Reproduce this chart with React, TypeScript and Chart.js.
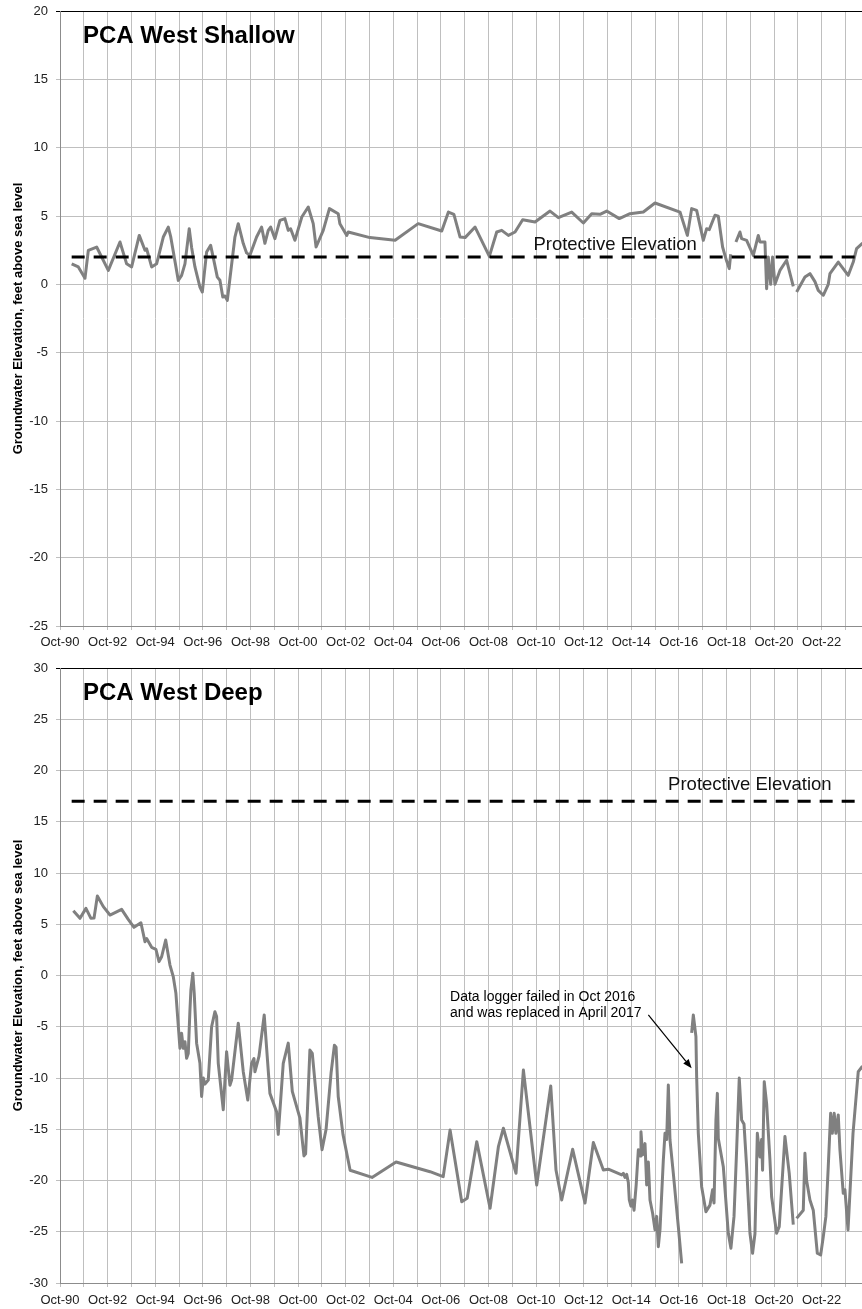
import React, { useEffect, useRef } from 'react';
import { Chart, registerables } from 'chart.js';

Chart.register(...registerables);

const FONT = "'Liberation Sans', Arial, Helvetica, sans-serif";

// X axis: one tick per year at October, labels every second year
const axisStart = 1990.75;
const axisEnd = 2024.75;
const xTickLabels = [
  'Oct-90', '', 'Oct-92', '', 'Oct-94', '', 'Oct-96', '', 'Oct-98', '',
  'Oct-00', '', 'Oct-02', '', 'Oct-04', '', 'Oct-06', '', 'Oct-08', '',
  'Oct-10', '', 'Oct-12', '', 'Oct-14', '', 'Oct-16', '', 'Oct-18', '',
  'Oct-20', '', 'Oct-22', '', '',
];
const tickYears = xTickLabels.map((_, i) => axisStart + i);

const yAxisTitle = 'Groundwater Elevation, feet above sea level';
const protectiveLabel = 'Protective Elevation';
const protectiveStart = 1991.24;

// PCA West Shallow
const shallowYears = [
  1991.24, 1991.52, 1991.80, 1991.94, 1992.29, 1992.78, 1993.27, 1993.55, 1993.76, 1994.08,
  1994.32, 1994.39, 1994.60, 1994.81, 1995.09, 1995.30, 1995.40, 1995.72, 1995.86, 1996.00,
  1996.18, 1996.28, 1996.42, 1996.63, 1996.73, 1996.91, 1997.08, 1997.19, 1997.36, 1997.47,
  1997.59, 1997.68, 1997.78, 1998.10, 1998.24, 1998.45, 1998.59, 1998.73, 1999.01, 1999.22,
  1999.36, 1999.50, 1999.60, 1999.78, 1999.99, 2000.20, 2000.34, 2000.44, 2000.62, 2000.91,
  2001.18, 2001.39, 2001.51, 2001.81, 2002.07, 2002.44, 2002.51, 2002.80, 2002.86, 2003.77,
  2004.83, 2005.80, 2006.79, 2007.07, 2007.30, 2007.56, 2007.77, 2008.19, 2008.79, 2009.10,
  2009.31, 2009.59, 2009.87, 2010.19, 2010.71, 2011.34, 2011.69, 2012.25, 2012.74, 2013.09,
  2013.44, 2013.72, 2014.25, 2014.70, 2015.26, 2015.75, 2016.80, 2017.11, 2017.29, 2017.50,
  2017.78, 2017.92, 2018.03, 2018.27, 2018.41, 2018.59, 2018.69, 2018.76, 2018.87, 2018.93,
  2019.03,
  2019.15, 2019.32, 2019.39, 2019.60, 2019.88, 2020.09, 2020.16, 2020.37, 2020.44, 2020.51,
  2020.61, 2020.69, 2020.79, 2021.00, 2021.28, 2021.56,
  2021.63,
  2021.70, 2022.05, 2022.26, 2022.47, 2022.61, 2022.82, 2023.03, 2023.10, 2023.45, 2023.87,
  2024.08, 2024.22, 2024.45, 2024.60,
];
const shallowLevels = [
  1.5, 1.27, 0.44, 2.49, 2.73, 1.02, 3.1, 1.5, 1.27, 3.58,
  2.49, 2.6, 1.27, 1.5, 3.46, 4.19, 3.5, 0.29, 0.66, 1.5,
  4.07, 2.7, 1.27, -0.2, -0.56, 2.36, 2.85, 1.95, 0.53, 0.3,
  -0.93, -0.85, -1.17, 3.46, 4.44, 2.98, 2.3, 2.12, 3.46, 4.19,
  3.0, 3.95, 4.19, 3.34, 4.68, 4.81, 3.95, 4.07, 3.22, 4.93,
  5.66, 4.44, 2.73, 3.95, 5.54, 5.17, 4.44, 3.58, 3.83, 3.42,
  3.22, 4.44, 3.9, 5.29, 5.12, 3.46, 3.42, 4.19, 2.05, 3.83,
  3.95, 3.58, 3.83, 4.73, 4.56, 5.36, 4.88, 5.29, 4.49, 5.17,
  5.12, 5.36, 4.81, 5.17, 5.29, 5.95, 5.29, 3.58, 5.54, 5.41,
  3.22, 4.07, 4.0, 5.05, 4.98, 2.73, 2.12, 1.7, 1.15, 2.2,
  null,
  3.1, 3.83, 3.34, 3.22, 2.12, 3.58, 3.1, 3.1, -0.32, 2.0,
  0.0, 2.0, 0.0, 1.02, 1.76, -0.15,
  null,
  -0.56, 0.53, 0.78, 0.2, -0.44, -0.8, 0.0, 0.78, 1.63, 0.66,
  1.63, 2.61, 2.98, 3.1,
];
const shallowProtective = 2;

// PCA West Deep
const deepYears = [
  1991.31, 1991.59, 1991.84, 1992.05, 1992.18, 1992.32, 1992.57, 1992.85, 1993.34, 1993.61,
  1993.86, 1994.15, 1994.32, 1994.39, 1994.60, 1994.78, 1994.91, 1995.02, 1995.19, 1995.37,
  1995.51, 1995.62, 1995.79, 1995.86, 1995.93, 1996.00, 1996.07, 1996.14, 1996.21, 1996.25,
  1996.33, 1996.39, 1996.49, 1996.63, 1996.70, 1996.77, 1996.84, 1996.98, 1997.12, 1997.26,
  1997.33, 1997.40, 1997.61, 1997.75, 1997.89, 1997.96, 1998.24, 1998.45, 1998.64, 1998.80,
  1998.90, 1998.94, 1999.11, 1999.33, 1999.57, 1999.85, 1999.92, 2000.13, 2000.34, 2000.51,
  2000.83, 2001.00, 2001.07, 2001.25, 2001.35, 2001.60, 2001.76, 2001.93, 2002.14, 2002.28,
  2002.35, 2002.44, 2002.64, 2002.94, 2003.86, 2004.87, 2006.30, 2006.85, 2007.14, 2007.63,
  2007.86, 2008.26, 2008.82, 2009.17, 2009.38, 2009.91, 2010.22, 2010.78, 2011.37, 2011.59,
  2011.83, 2012.29, 2012.81, 2013.16, 2013.58, 2013.79, 2014.35, 2014.42, 2014.49, 2014.56,
  2014.63, 2014.67, 2014.74, 2014.80, 2014.87, 2014.96, 2015.05, 2015.12, 2015.16, 2015.23,
  2015.33, 2015.40, 2015.47, 2015.54, 2015.65, 2015.75, 2015.82, 2015.89, 2015.96, 2016.10,
  2016.17, 2016.24, 2016.31, 2016.38, 2016.52, 2016.73, 2016.87,
  2017.05,
  2017.29, 2017.36, 2017.47, 2017.50, 2017.57, 2017.71, 2017.89, 2018.06, 2018.17, 2018.23,
  2018.31, 2018.37, 2018.41, 2018.62, 2018.83, 2018.94, 2019.07, 2019.18, 2019.29, 2019.39,
  2019.49, 2019.60, 2019.74, 2019.85, 2019.95, 2020.05, 2020.16, 2020.23, 2020.27, 2020.34,
  2020.44, 2020.58, 2020.65, 2020.86, 2020.97, 2021.21, 2021.39, 2021.56,
  2021.63,
  2021.70, 2021.98, 2022.05, 2022.12, 2022.26, 2022.40, 2022.57, 2022.71, 2022.82, 2022.93,
  2023.03, 2023.13, 2023.20, 2023.28, 2023.35, 2023.45, 2023.52, 2023.66, 2023.73, 2023.86,
  2024.07, 2024.29, 2024.45, 2024.60,
];
const deepLevels = [
  6.32, 5.58, 6.55, 5.58, 5.6, 7.76, 6.72, 5.9, 6.45, 5.5,
  4.7, 5.15, 3.3, 3.6, 2.75, 2.56, 1.35, 1.83, 3.46, 1.02,
  -0.12, -1.74, -7.1, -5.64, -7.1, -6.46, -8.08, -7.6, -3.37, -1.41,
  0.21, -1.74, -6.6, -8.57, -11.8, -10.0, -10.6, -10.2, -5.0, -3.53,
  -4.0, -8.57, -13.1, -7.43, -10.7, -10.2, -4.66, -9.38, -12.15, -8.57,
  -8.1, -9.4, -7.9, -3.85, -11.5, -13.3, -15.5, -8.57, -6.6, -11.3,
  -13.9, -17.6, -17.4, -7.27, -7.6, -13.8, -17.0, -15.0, -9.5, -6.8,
  -7.0, -11.8, -15.5, -19.0, -19.7, -18.2, -19.14, -19.63, -15.07, -22.07,
  -21.74, -16.21, -22.7, -16.7, -14.9, -19.3, -9.22, -20.44, -10.78, -18.98,
  -21.9, -16.96, -22.2, -16.3, -18.98, -18.9, -19.46, -19.3, -19.7, -19.4,
  -20.2, -21.9, -22.5, -21.9, -22.9, -20.4, -17.0, -17.6, -15.24, -17.5,
  -16.4, -20.44, -18.2, -21.9, -23.2, -24.8, -23.5, -26.46, -24.8, -18.0,
  -15.4, -16.0, -10.68, -16.05, -19.3, -24.5, -28.08,
  null,
  -5.6, -3.85, -5.97, -9.87, -15.4, -20.6, -23.04, -22.4, -20.9, -22.2,
  -14.1, -11.5, -15.9, -18.65, -25.15, -26.6, -23.5, -17.0, -10.0, -14.1,
  -14.5, -18.65, -25.15, -27.1, -25.2, -15.4, -17.7, -16.0, -19.0, -10.36,
  -12.5, -18.0, -21.58, -25.15, -24.5, -15.7, -19.3, -24.3,
  null,
  -23.7, -22.9, -17.35, -20.0, -21.9, -22.9, -27.1, -27.27, -25.5, -23.5,
  -18.65, -13.44, -15.4, -13.44, -15.4, -13.6, -17.0, -21.25, -20.9, -24.83,
  -15.4, -9.38, -8.9, -9.5,
];
const deepProtective = 17;

type Note = {
  lines: string[];
  x: number; // year of text start
  baselines: number[]; // px offset from chart top
  tail: [number, number];
  tip: [number, number];
};

type Cfg = {
  title: string;
  years: number[];
  levels: (number | null)[];
  protective: number;
  yMin: number;
  yMax: number;
  height: number;
  padTop: number;
  xAxisHeight: number;
  xLabelPad: number;
  labelYear: number;
  labelRise: number;
  note?: Note;
};

const textPlugin = {
  id: 'gwText',
  afterDraw(chart: any, _args: any, opts: any) {
    const { ctx, chartArea } = chart;
    const xs = chart.scales.x;
    const ys = chart.scales.y;
    ctx.save();
    ctx.fillStyle = '#000';
    ctx.textAlign = 'left';
    ctx.textBaseline = 'alphabetic';
    ctx.font = `bold 24px ${FONT}`;
    ctx.fillText(opts.title, chartArea.left + 23, chartArea.top + 32);

    ctx.font = `18.5px ${FONT}`;
    ctx.fillStyle = '#111';
    ctx.fillText(protectiveLabel, xs.getPixelForValue(opts.labelYear), ys.getPixelForValue(opts.protective) - opts.labelRise);

    const note: Note | undefined = opts.note;
    if (note) {
      ctx.font = `14px ${FONT}`;
      ctx.fillStyle = '#000';
      const nx = xs.getPixelForValue(note.x);
      note.lines.forEach((t, i) => ctx.fillText(t, nx, chartArea.top + note.baselines[i]));
      const x1 = xs.getPixelForValue(note.tail[0]);
      const y1 = ys.getPixelForValue(note.tail[1]);
      const x2 = xs.getPixelForValue(note.tip[0]);
      const y2 = ys.getPixelForValue(note.tip[1]);
      const ang = Math.atan2(y2 - y1, x2 - x1);
      const hl = 9;
      const hw = 3.5;
      const bx = x2 - hl * Math.cos(ang);
      const by = y2 - hl * Math.sin(ang);
      ctx.strokeStyle = '#000';
      ctx.lineWidth = 1.2;
      ctx.beginPath();
      ctx.moveTo(x1, y1);
      ctx.lineTo(bx, by);
      ctx.stroke();
      ctx.beginPath();
      ctx.moveTo(x2, y2);
      ctx.lineTo(bx + hw * Math.sin(ang), by - hw * Math.cos(ang));
      ctx.lineTo(bx - hw * Math.sin(ang), by + hw * Math.cos(ang));
      ctx.closePath();
      ctx.fill();
    }
    ctx.restore();
  },
};

function GwChart({ cfg }: { cfg: Cfg }) {
  const ref = useRef<HTMLCanvasElement>(null);
  useEffect(() => {
    const canvas = ref.current;
    if (!canvas) return;
    const gridColor = '#bfbfbf';
    const chart = new Chart(canvas, {
      type: 'line',
      data: {
        datasets: [
          {
            label: protectiveLabel,
            data: [
              { x: protectiveStart, y: cfg.protective },
              { x: axisEnd, y: cfg.protective },
            ],
            borderColor: '#000',
            borderWidth: 3,
            borderDash: [13, 9],
            pointRadius: 0,
            tension: 0,
          },
          {
            label: cfg.title,
            data: cfg.years.map((x, i) => ({ x, y: cfg.levels[i] })),
            borderColor: '#808080',
            borderWidth: 3,
            pointRadius: 0,
            tension: 0,
            spanGaps: false,
            borderJoinStyle: 'round',
          },
        ],
      },
      options: {
        animation: false,
        responsive: false,
        maintainAspectRatio: false,
        devicePixelRatio: 1,
        layout: { padding: { top: cfg.padTop, left: 0, right: 880 - 869.2, bottom: 0 } },
        plugins: {
          legend: { display: false },
          tooltip: { enabled: false },
          title: { display: false },
          gwText: {
            title: cfg.title,
            protective: cfg.protective,
            labelYear: cfg.labelYear,
            labelRise: cfg.labelRise,
            note: cfg.note,
          },
        } as any,
        scales: {
          x: {
            type: 'linear',
            min: axisStart,
            max: axisEnd,
            afterBuildTicks: (s: any) => {
              s.ticks = tickYears.map((v) => ({ value: v }));
            },
            afterFit: (s: any) => {
              s.height = cfg.xAxisHeight;
              s.paddingLeft = 0;
              s.paddingRight = 0;
            },
            grid: { color: gridColor, lineWidth: 1, tickLength: 4, drawTicks: true },
            border: { color: '#8c8c8c', width: 1 },
            ticks: {
              autoSkip: false,
              maxRotation: 0,
              minRotation: 0,
              padding: cfg.xLabelPad,
              color: '#222',
              font: { family: FONT, size: 13 },
              callback: (_v: any, i: number) => xTickLabels[i] ?? '',
            },
          },
          y: {
            min: cfg.yMin,
            max: cfg.yMax,
            afterFit: (s: any) => {
              s.width = 60;
              s.paddingTop = 0;
              s.paddingBottom = 0;
            },
            grid: {
              color: (c: any) => (c.tick && c.tick.value === cfg.yMax ? '#000' : gridColor),
              lineWidth: 1,
              tickLength: 4,
            },
            border: { color: '#8c8c8c', width: 1 },
            ticks: {
              stepSize: 5,
              padding: 8,
              color: '#222',
              font: { family: FONT, size: 13 },
            },
            title: {
              display: true,
              text: yAxisTitle,
              color: '#000',
              font: { family: FONT, size: 13, weight: 'bold' },
              padding: { top: 11, bottom: 0 },
            },
          },
        },
      },
      plugins: [textPlugin],
    } as any);
    return () => chart.destroy();
  }, [cfg]);
  return (
    <canvas
      ref={ref}
      width={880}
      height={cfg.height}
      style={{ display: 'block', width: 880, height: cfg.height }}
    />
  );
}

const shallowCfg: Cfg = {
  title: 'PCA West Shallow',
  years: shallowYears,
  levels: shallowLevels,
  protective: shallowProtective,
  yMin: -25,
  yMax: 20,
  height: 655,
  padTop: 11,
  xAxisHeight: 29,
  xLabelPad: 5,
  labelYear: 2010.64,
  labelRise: 7.5,
};

const deepCfg: Cfg = {
  title: 'PCA West Deep',
  years: deepYears,
  levels: deepLevels,
  protective: deepProtective,
  yMin: -30,
  yMax: 30,
  height: 654,
  padTop: 13,
  xAxisHeight: 26,
  xLabelPad: 6,
  labelYear: 2016.3,
  labelRise: 11.5,
  note: {
    lines: ['Data logger failed in Oct 2016', 'and was replaced in April 2017'],
    x: 2007.14,
    baselines: [333, 349],
    tail: [2015.47, -3.85],
    tip: [2017.29, -9.05],
  },
};

export default function App() {
  return (
    <div
      style={{
        position: 'absolute',
        left: 0,
        top: 0,
        width: 862,
        height: 1309,
        overflow: 'hidden',
        background: '#fff',
      }}
    >
      <div style={{ position: 'absolute', left: 0, top: 0 }}>
        <GwChart cfg={shallowCfg} />
      </div>
      <div style={{ position: 'absolute', left: 0, top: 655 }}>
        <GwChart cfg={deepCfg} />
      </div>
    </div>
  );
}
